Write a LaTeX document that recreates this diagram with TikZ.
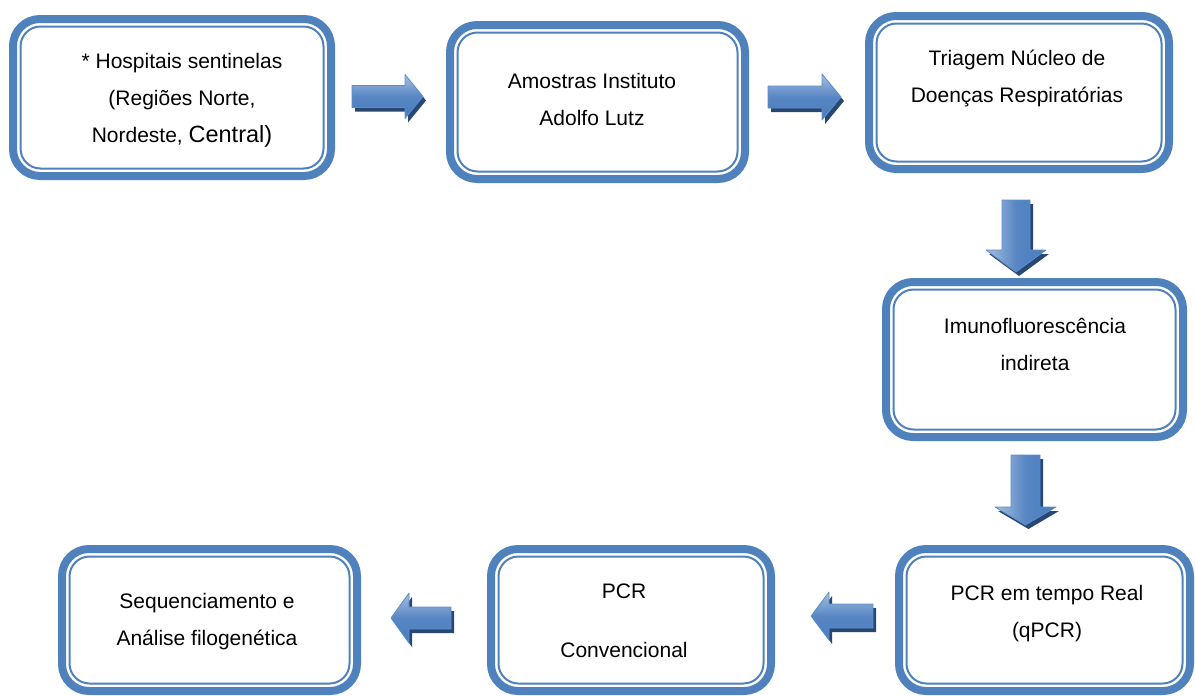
\documentclass[tikz,border=0pt]{standalone}
\usepackage{fontspec}
\setmainfont{Liberation Sans}
\definecolor{boxblue}{HTML}{4F81BD}
\definecolor{arrlight}{HTML}{A6C0E2}
\definecolor{arrmid}{HTML}{4A7CBE}
\definecolor{arrshadow}{HTML}{264873}
\definecolor{arredge}{HTML}{5E8DC8}
\tikzset{
  flowbox/.style={draw=boxblue, line width=8pt, rounded corners=27pt, rectangle, inner sep=0pt, outer sep=0pt, fill=white},
  innerline/.style={draw=boxblue, line width=2pt, rounded corners=20pt},
  txt/.style={font=\fontsize{21}{37}\selectfont, align=center, anchor=base, inner sep=0pt},
  arrbody/.style={draw=arredge, line width=0.8pt, line join=round},
  arrshad/.style={fill=arrshadow},
}
% horizontal block arrow: name, tail x, centre y, direction (1 or -1), shaft length, head length, shaft half width, head half width
\newcommand\harrow[8]{%
  \begin{scope}[shift={(#2+3,#3+4)}, xscale=#4]
    \fill[arrshad] (0,-#7) -- (#5,-#7) -- (#5,-#8) -- (#5+#6,0) -- (#5,#8) -- (#5,#7) -- (0,#7) -- cycle;
  \end{scope}
  \begin{scope}[shift={(#2,#3)}, xscale=#4]
    \path[arrbody, top color=arrlight, bottom color=arrmid, middle color=arrmid!85!arrlight]
      (0,-#7) -- (#5,-#7) -- (#5,-#8) -- (#5+#6,0) -- (#5,#8) -- (#5,#7) -- (0,#7) -- cycle;
    \coordinate (#1) at (#5/2+#6/2,0);
  \end{scope}}
% vertical (downward) block arrow: name, centre x, top y, shaft length, head length, shaft half width, head half width
\newcommand\varrow[7]{%
  \begin{scope}[shift={(#2+3,#3+4)}]
    \fill[arrshad] (-#6,0) -- (#6,0) -- (#6,#4) -- (#7,#4) -- (0,#4+#5) -- (-#7,#4) -- (-#6,#4) -- cycle;
  \end{scope}
  \begin{scope}[shift={(#2,#3)}]
    \path[arrbody, left color=arrlight, right color=arrmid, middle color=arrmid!85!arrlight]
      (-#6,0) -- (#6,0) -- (#6,#4) -- (#7,#4) -- (0,#4+#5) -- (-#7,#4) -- (-#6,#4) -- cycle;
    \coordinate (#1) at (0,#4/2+#5/2);
  \end{scope}}
\begin{document}
\begin{tikzpicture}[x=1pt, y=-1pt]
\useasboundingbox (0,0) rectangle (1195,696);
\begin{scope}
\clip (0,0) rectangle (1195,696);
% boxes
\node[flowbox, minimum width=318pt, minimum height=157pt] (b1) at (172,97.5) {};
\node[flowbox, minimum width=295pt, minimum height=154pt] (b2) at (597.5,102) {};
\node[flowbox, minimum width=300pt, minimum height=153pt] (b3) at (1019,92.5) {};
\node[flowbox, minimum width=297pt, minimum height=155pt] (b4) at (1034.5,359.5) {};
\node[flowbox, minimum width=291pt, minimum height=142pt] (b5) at (1044.5,620) {};
\node[flowbox, minimum width=280pt, minimum height=142pt] (b6) at (631,620) {};
\node[flowbox, minimum width=295pt, minimum height=142pt] (b7) at (209.5,620) {};
\foreach \bx in {b1,b2,b3,b4,b5,b6,b7}{
  \draw[innerline] ([xshift=7.5pt,yshift=-7.5pt]\bx.north west) rectangle ([xshift=-7.5pt,yshift=7.5pt]\bx.south east);
}
\end{scope}
% texts (base anchor = baseline of the last line)
\node[txt] (t1) at (182,142) {* Hospitais sentinelas\\(Regiões Norte,\\Nordeste, {\fontsize{23.5}{37}\selectfont Central)}};
\node[txt] (t2) at (592,125) {Amostras Instituto\\Adolfo Lutz};
\node[txt] (t3) at (1017,102) {Triagem Núcleo de\\Doenças Respiratórias};
\node[txt] (t4) at (1035,370) {Imunofluorescência\\indireta};
\node[txt] (t5) at (1047,637) {PCR em tempo Real\\(qPCR)};
\node[txt, font=\fontsize{21}{59}\selectfont] (t6) at (624,657) {PCR\\Convencional};
\node[txt] (t7) at (207,645) {Sequenciamento e\\Análise filogenética};
% block arrows
\harrow{a12}{352}{96.5}{1}{53}{18}{11}{22}
\harrow{a23}{768}{97}{1}{54}{19}{11}{23}
\varrow{a34}{1016}{200}{50}{22}{14}{30}
\varrow{a45}{1025.5}{455}{52}{18}{14.5}{30.5}
\harrow{a56}{873}{616}{-1}{44}{18}{12}{24}
\harrow{a67}{451}{618}{-1}{42}{18}{11}{25}
\end{tikzpicture}
\end{document}
